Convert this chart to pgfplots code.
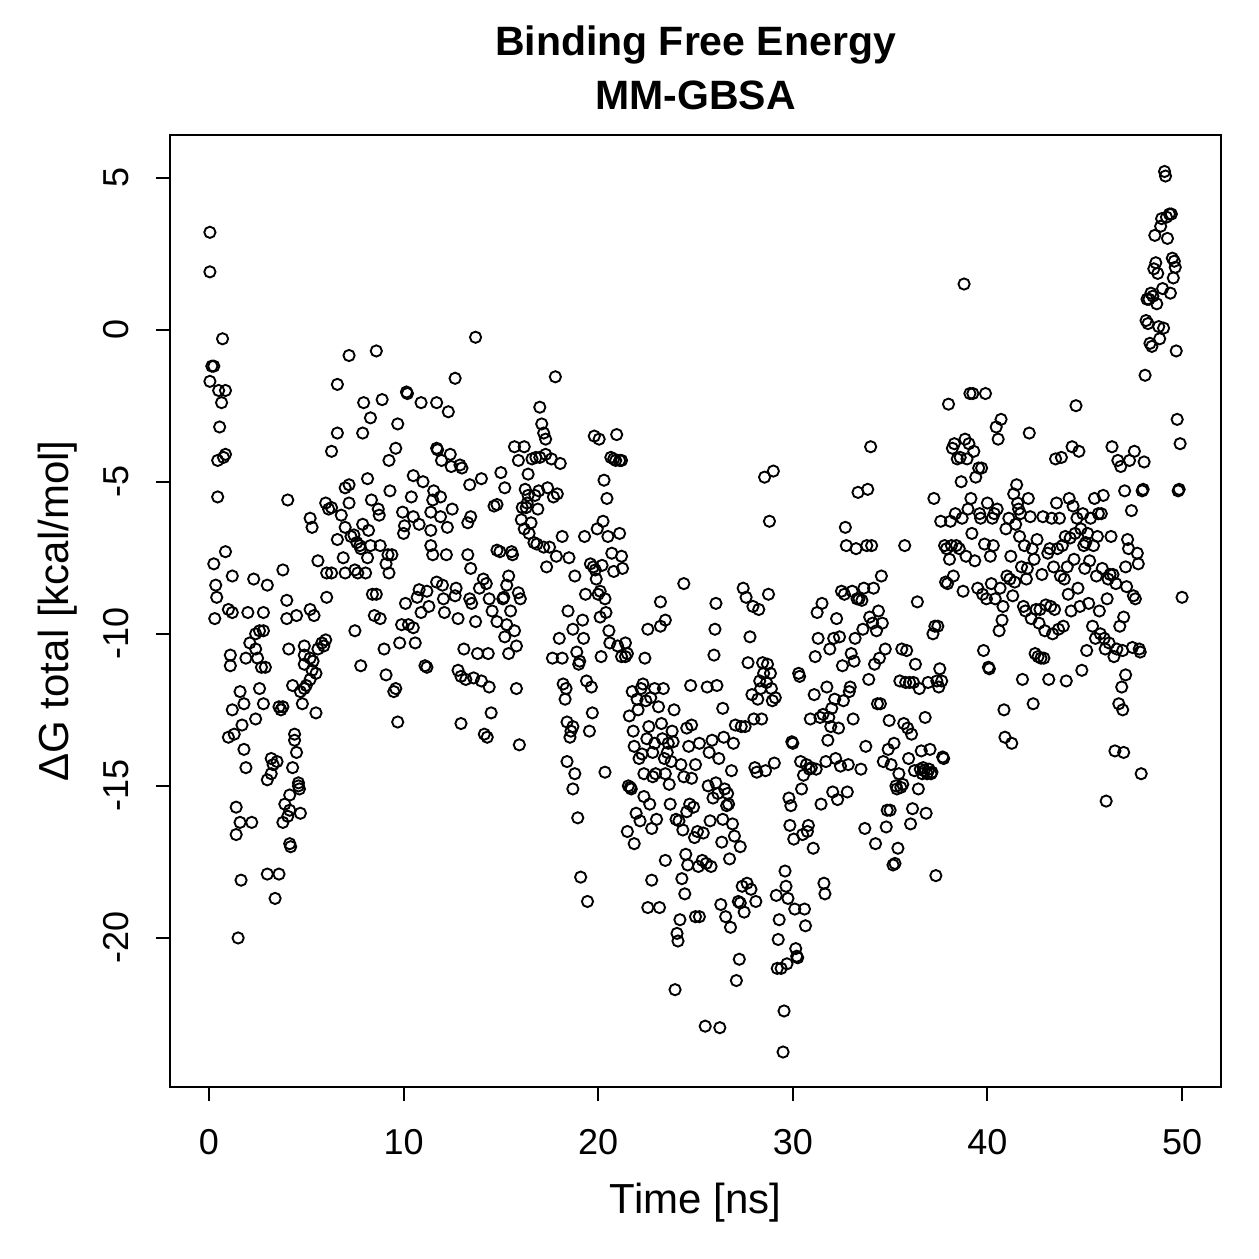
\documentclass[border=0pt]{standalone}
\usepackage{fontspec}
\setmainfont{Liberation Sans}
\usepackage{pgfplots}
\usepackage{pgfplotstable}
\pgfplotsset{compat=1.18}

% Binding free energy per frame (time in ns, energy in kcal/mol)
\pgfplotstableread{
t y
0.05 3.2
0.05 1.9
0.05 -1.7
0.15 -1.2
0.25 -1.2
0.7 -0.3
0.5 -2.0
0.85 -2.0
0.65 -2.4
0.55 -3.2
0.45 -4.3
0.85 -4.1
0.75 -4.2
0.45 -5.5
0.25 -7.7
0.85 -7.3
0.35 -8.4
0.4 -8.8
0.3 -9.5
1.0 -9.2
1.2 -8.1
1.2 -9.3
1.1 -10.7
1.1 -11.05
1.2 -12.5
1.0 -13.4
1.3 -13.3
1.6 -11.9
1.8 -12.3
1.7 -13.0
1.8 -13.8
1.9 -14.4
1.4 -15.7
1.4 -16.6
1.6 -16.2
2.2 -16.2
1.65 -18.1
1.5 -20.0
1.9 -10.8
2.3 -8.2
2.0 -9.3
2.1 -10.3
2.4 -10.0
2.6 -9.9
2.8 -9.9
2.5 -10.8
2.4 -10.5
2.7 -11.1
2.9 -11.1
3.0 -8.4
2.8 -9.3
2.6 -11.8
2.8 -12.3
2.4 -12.8
3.6 -12.4
3.7 -12.5
3.8 -12.4
3.8 -7.9
4.0 -8.9
4.0 -9.5
4.1 -10.5
4.05 -5.6
4.3 -11.7
4.7 -11.9
4.5 -9.4
4.9 -10.4
3.2 -14.1
3.2 -14.6
3.0 -14.8
3.3 -14.3
3.5 -14.2
3.0 -17.9
3.6 -17.9
3.4 -18.7
3.8 -16.2
3.9 -15.6
4.15 -15.3
4.15 -15.8
4.15 -16.9
4.2 -17.0
4.05 -16.0
4.3 -14.4
4.4 -13.5
4.5 -13.9
4.6 -14.9
4.6 -15.0
4.65 -15.1
4.7 -15.9
4.4 -13.3
4.8 -12.3
4.9 -11.8
5.0 -11.7
4.9 -11.0
4.9 -10.7
5.2 -11.5
5.2 -10.8
5.3 -11.2
5.35 -10.9
5.5 -11.3
5.5 -12.6
5.2 -9.2
5.2 -6.2
5.3 -6.5
5.4 -9.4
5.6 -10.5
5.6 -7.6
5.8 -10.3
5.9 -10.4
6.0 -10.2
6.05 -8.0
6.05 -8.8
6.0 -5.7
6.15 -5.9
6.3 -5.85
6.3 -8.0
6.3 -4.0
6.6 -3.4
6.6 -1.8
6.6 -6.9
6.8 -6.1
6.9 -7.5
7.0 -5.2
7.0 -6.5
7.0 -8.0
7.2 -5.7
7.2 -5.1
7.2 -0.85
7.3 -6.8
7.45 -6.75
7.5 -7.9
7.5 -9.9
7.65 -8.0
7.6 -7.0
7.75 -7.1
7.8 -7.2
7.9 -6.4
7.8 -11.05
8.05 -8.0
8.15 -7.5
8.3 -7.1
7.9 -3.4
7.95 -2.4
8.15 -4.9
8.2 -6.6
8.35 -5.6
8.3 -2.9
8.4 -8.7
8.6 -0.7
8.5 -9.4
8.6 -8.7
8.7 -5.9
8.75 -6.1
8.9 -2.3
8.8 -7.1
8.8 -9.5
9.0 -10.5
9.1 -11.35
9.1 -7.7
9.2 -7.4
9.25 -4.3
9.25 -8.0
9.3 -5.3
9.4 -7.4
9.5 -11.9
9.6 -11.8
9.6 -3.9
9.7 -3.1
9.7 -12.9
9.8 -10.3
9.9 -9.7
9.95 -6.0
10.0 -6.7
10.05 -6.45
10.15 -2.05
10.2 -2.1
10.25 -9.7
10.1 -9.0
10.4 -5.5
10.5 -4.8
10.5 -6.15
10.5 -9.8
10.6 -10.3
10.7 -8.8
10.8 -6.4
10.8 -8.55
10.9 -9.3
10.9 -2.4
11.0 -5.0
11.1 -11.05
11.2 -11.1
11.2 -8.6
11.3 -9.1
11.4 -7.1
11.5 -7.4
11.4 -6.6
11.4 -6.0
11.7 -2.4
11.5 -5.6
11.55 -5.3
11.7 -3.9
11.75 -3.95
11.7 -8.3
11.9 -5.5
11.9 -6.15
11.95 -4.3
12.0 -8.4
12.05 -8.85
12.1 -9.3
12.2 -7.4
12.25 -6.5
12.3 -2.7
12.4 -4.1
12.45 -4.5
12.5 -5.9
12.65 -1.6
12.7 -8.5
12.65 -8.75
12.8 -9.5
12.8 -11.2
12.95 -11.4
12.95 -12.95
12.9 -4.45
13.0 -4.55
13.1 -10.5
13.2 -11.5
13.3 -6.35
13.3 -7.4
13.4 -5.1
13.45 -6.15
13.4 -8.85
13.45 -7.85
13.5 -9.0
13.6 -11.45
13.7 -0.25
13.7 -9.6
13.8 -10.65
13.9 -8.5
14.0 -4.9
14.0 -11.55
14.1 -8.2
14.15 -13.3
14.3 -13.4
14.25 -8.35
14.35 -10.65
14.4 -8.85
14.4 -11.75
14.5 -12.6
14.55 -9.25
14.65 -5.8
14.8 -5.75
14.8 -9.6
14.8 -7.25
14.95 -7.3
15.0 -4.7
15.1 -8.85
15.15 -8.8
15.2 -5.2
15.2 -10.1
15.3 -9.7
15.3 -8.4
15.4 -8.1
15.4 -10.65
15.5 -9.25
15.55 -7.3
15.6 -7.4
15.7 -3.85
15.7 -9.9
15.8 -11.8
15.8 -10.4
15.9 -8.65
15.95 -13.65
15.9 -4.3
16.0 -8.85
16.05 -6.25
16.1 -5.85
16.2 -3.85
16.2 -6.55
16.25 -5.25
16.3 -5.85
16.35 -5.7
16.4 -4.75
16.4 -5.45
16.45 -6.7
16.55 -6.35
16.6 -4.25
16.7 -7.0
16.75 -5.45
16.8 -4.2
16.85 -7.05
16.9 -5.9
16.95 -5.3
17.0 -2.55
17.0 -4.2
17.1 -3.1
17.2 -3.4
17.2 -7.15
17.3 -4.1
17.3 -3.6
17.35 -7.8
17.4 -5.2
17.5 -7.15
17.6 -4.25
17.7 -5.5
17.65 -10.8
17.8 -1.55
17.85 -7.45
17.9 -5.4
18.05 -4.4
18.0 -10.15
18.15 -10.8
18.15 -6.8
18.2 -11.65
18.3 -12.15
18.35 -11.8
18.4 -12.9
18.4 -14.2
18.45 -9.25
18.5 -7.5
18.6 -13.2
18.7 -13.05
18.55 -13.4
18.7 -9.85
18.7 -15.1
18.8 -8.1
18.8 -14.6
18.9 -10.6
18.95 -16.05
19.0 -11.0
19.05 -10.9
19.1 -18.0
19.2 -9.55
19.25 -10.15
19.3 -6.8
19.35 -8.7
19.4 -11.55
19.45 -18.8
19.55 -13.2
19.6 -7.7
19.65 -11.75
19.7 -12.6
19.75 -7.8
19.8 -3.5
19.85 -7.9
19.9 -8.2
19.95 -6.55
20.0 -8.7
20.05 -3.6
20.1 -8.6
20.1 -9.45
20.15 -10.75
20.2 -7.75
20.25 -6.3
20.3 -4.95
20.35 -14.55
20.35 -8.85
20.4 -9.3
20.45 -5.55
20.5 -6.8
20.55 -9.9
20.6 -10.3
20.65 -4.2
20.7 -7.35
20.8 -4.25
20.8 -7.95
20.9 -4.3
20.95 -3.45
21.0 -10.4
21.1 -4.3
21.2 -4.3
21.1 -6.7
21.2 -7.45
21.2 -10.75
21.25 -7.85
21.4 -10.3
21.4 -10.75
21.5 -10.65
21.5 -16.5
21.55 -15.0
21.6 -12.7
21.65 -15.05
21.7 -15.1
21.75 -11.9
21.8 -13.2
21.85 -13.7
21.85 -16.9
21.95 -15.9
22.0 -12.15
22.05 -12.5
22.1 -14.1
22.15 -16.15
22.2 -11.8
22.25 -13.95
22.3 -11.65
22.35 -15.35
22.35 -14.6
22.4 -10.8
22.45 -12.2
22.5 -13.45
22.55 -9.85
22.55 -19.0
22.6 -13.05
22.65 -15.6
22.7 -12.1
22.75 -18.1
22.75 -16.4
22.8 -13.9
22.8 -14.7
22.9 -11.8
22.9 -13.6
22.95 -14.6
23.0 -16.1
23.1 -12.4
23.15 -19.0
23.2 -8.95
23.2 -9.75
23.25 -12.95
23.3 -13.45
23.35 -11.8
23.4 -14.1
23.45 -14.6
23.45 -17.45
23.45 -9.55
23.55 -13.9
23.6 -13.6
23.65 -14.95
23.7 -15.6
23.75 -14.2
23.8 -13.2
23.85 -13.55
23.9 -12.5
23.95 -21.7
24.0 -16.1
24.05 -19.85
24.1 -20.1
24.15 -16.15
24.2 -19.4
24.25 -14.3
24.3 -18.05
24.35 -16.45
24.4 -8.35
24.4 -14.7
24.45 -18.55
24.5 -17.25
24.55 -15.85
24.55 -13.1
24.6 -17.6
24.65 -13.7
24.7 -15.6
24.75 -11.7
24.8 -13.0
24.8 -14.75
24.9 -15.7
24.95 -16.7
25.0 -14.3
25.0 -19.3
25.1 -16.5
25.15 -17.65
25.2 -19.3
25.2 -13.6
25.35 -17.45
25.4 -16.55
25.5 -22.9
25.55 -17.55
25.6 -11.75
25.65 -15.0
25.7 -13.9
25.75 -16.15
25.8 -17.65
25.85 -13.5
25.9 -15.4
25.95 -10.7
26.0 -9.85
26.05 -9.0
26.05 -14.9
26.1 -11.7
26.15 -15.25
26.2 -14.1
26.25 -22.95
26.3 -18.9
26.35 -16.85
26.4 -12.45
26.4 -16.1
26.45 -13.4
26.5 -15.1
26.55 -19.3
26.6 -15.65
26.65 -15.25
26.7 -15.6
26.75 -17.4
26.8 -19.65
26.85 -14.5
26.9 -16.25
26.95 -13.6
27.0 -16.65
27.05 -13.0
27.1 -21.4
27.2 -18.8
27.3 -18.85
27.25 -20.7
27.3 -17.0
27.35 -13.05
27.4 -18.3
27.45 -8.5
27.5 -19.15
27.55 -13.05
27.6 -8.8
27.65 -18.2
27.7 -10.95
27.8 -10.1
27.85 -18.4
27.9 -12.0
27.95 -9.1
28.0 -12.8
28.05 -14.4
28.1 -18.8
28.15 -14.55
28.2 -12.15
28.25 -9.2
28.3 -11.55
28.35 -11.8
28.4 -12.8
28.45 -10.95
28.5 -11.3
28.55 -4.85
28.6 -14.5
28.65 -11.6
28.7 -11.0
28.75 -8.7
28.8 -6.3
28.85 -11.3
28.9 -11.8
28.95 -12.2
29.0 -4.65
29.05 -14.25
29.1 -12.1
29.15 -18.6
29.2 -21.0
29.25 -20.05
29.3 -19.4
29.4 -21.0
29.5 -23.75
29.55 -22.4
29.6 -17.8
29.65 -18.3
29.7 -20.85
29.75 -18.7
29.8 -15.4
29.85 -16.3
29.9 -15.65
29.95 -13.55
30.0 -13.6
30.05 -16.75
30.1 -19.05
30.15 -20.35
30.2 -20.6
30.25 -20.65
30.3 -11.3
30.35 -11.4
30.4 -14.2
30.45 -15.1
30.5 -16.6
30.55 -14.65
30.6 -19.05
30.65 -19.6
30.7 -14.3
30.75 -16.5
30.8 -16.3
30.85 -14.45
30.9 -12.8
30.95 -14.4
31.05 -17.05
31.1 -12.0
31.15 -10.75
31.2 -14.45
31.25 -9.3
31.3 -10.15
31.4 -12.75
31.45 -15.6
31.5 -9.0
31.55 -12.65
31.6 -18.2
31.65 -18.55
31.7 -14.2
31.75 -11.75
31.8 -13.5
31.85 -12.75
31.9 -10.5
31.95 -13.05
32.0 -12.45
32.05 -15.2
32.1 -10.15
32.15 -12.15
32.2 -14.1
32.25 -9.5
32.3 -15.45
32.35 -13.1
32.4 -10.1
32.45 -14.35
32.5 -8.6
32.55 -11.05
32.6 -12.2
32.65 -8.7
32.7 -6.5
32.75 -7.1
32.8 -15.2
32.85 -14.3
32.9 -11.9
32.95 -11.75
33.0 -10.65
33.05 -8.6
33.1 -12.8
33.15 -10.9
33.2 -10.15
33.25 -7.2
33.3 -8.85
33.35 -5.35
33.4 -8.85
33.5 -14.45
33.55 -8.9
33.6 -9.85
33.65 -8.5
33.7 -16.4
33.75 -13.7
33.8 -7.1
33.85 -5.25
33.9 -11.5
33.95 -9.45
34.0 -3.85
34.05 -7.1
34.1 -9.65
34.15 -8.5
34.2 -11.0
34.25 -16.9
34.3 -9.9
34.35 -12.3
34.4 -9.25
34.45 -10.8
34.5 -12.3
34.55 -8.1
34.6 -9.65
34.65 -14.2
34.75 -10.5
34.8 -16.35
34.85 -15.8
34.9 -13.8
34.95 -12.85
35.0 -15.8
35.05 -14.3
35.15 -17.6
35.2 -13.6
35.25 -17.55
35.3 -15.0
35.35 -15.1
35.4 -17.05
35.45 -14.6
35.5 -11.55
35.55 -15.05
35.6 -10.5
35.65 -14.95
35.7 -12.95
35.75 -7.1
35.8 -11.6
35.85 -10.55
35.9 -13.1
35.95 -14.1
36.0 -11.6
36.05 -16.25
36.1 -13.3
36.15 -15.75
36.2 -11.6
36.25 -14.5
36.3 -11.0
36.4 -8.95
36.45 -15.1
36.5 -11.8
36.55 -14.45
36.6 -13.85
36.65 -14.6
36.7 -14.4
36.75 -14.5
36.8 -12.75
36.85 -15.9
36.9 -14.6
36.95 -11.6
37.0 -14.45
37.05 -13.8
37.1 -14.6
37.15 -14.55
37.2 -10.0
37.25 -5.55
37.3 -9.75
37.35 -17.95
37.4 -11.55
37.45 -9.75
37.5 -11.75
37.55 -11.15
37.6 -6.3
37.65 -11.55
37.7 -14.05
37.75 -14.1
37.8 -7.1
37.85 -8.3
37.9 -7.2
37.95 -8.35
38.0 -2.45
38.05 -7.55
38.1 -6.3
38.15 -7.1
38.2 -3.9
38.25 -8.1
38.3 -3.75
38.35 -6.05
38.4 -7.1
38.45 -4.25
38.55 -7.2
38.6 -4.2
38.65 -5.0
38.7 -6.2
38.75 -8.6
38.8 1.5
38.85 -3.6
38.9 -7.45
38.95 -4.25
39.0 -5.9
39.05 -3.75
39.1 -2.1
39.15 -5.55
39.2 -6.7
39.25 -2.1
39.3 -4.0
39.35 -7.6
39.4 -4.85
39.5 -8.5
39.55 -4.55
39.6 -6.05
39.65 -6.2
39.7 -4.55
39.75 -8.7
39.8 -10.55
39.85 -7.05
39.9 -2.1
39.95 -8.85
40.0 -5.7
40.05 -11.1
40.1 -11.15
40.15 -7.45
40.2 -8.35
40.25 -6.2
40.3 -7.1
40.35 -6.05
40.4 -8.85
40.45 -3.2
40.5 -5.9
40.55 -3.6
40.6 -9.9
40.65 -8.5
40.7 -2.95
40.75 -9.55
40.8 -9.1
40.85 -12.5
40.9 -13.4
40.95 -6.55
41.0 -8.1
41.1 -6.2
41.15 -8.2
41.2 -7.45
41.25 -13.6
41.3 -8.75
41.35 -5.4
41.4 -8.3
41.45 -6.4
41.5 -5.1
41.55 -5.7
41.6 -5.9
41.65 -6.8
41.7 -6.05
41.75 -7.8
41.8 -11.5
41.85 -9.1
41.9 -7.1
41.95 -9.25
42.0 -8.2
42.05 -7.85
42.1 -5.55
42.15 -3.4
42.2 -6.15
42.25 -9.5
42.3 -7.2
42.35 -12.3
42.4 -7.55
42.45 -10.65
42.5 -9.2
42.55 -6.9
42.6 -10.75
42.65 -9.65
42.7 -9.2
42.75 -10.8
42.8 -8.05
42.85 -6.15
42.9 -10.8
42.95 -9.9
43.0 -9.05
43.1 -7.35
43.15 -11.5
43.2 -7.2
43.25 -9.1
43.3 -6.2
43.35 -10.0
43.4 -7.8
43.45 -9.2
43.5 -4.25
43.55 -5.7
43.6 -7.2
43.65 -9.85
43.7 -6.2
43.75 -8.1
43.8 -4.2
43.85 -7.1
43.9 -9.75
43.95 -8.2
44.0 -6.8
44.05 -11.55
44.1 -7.8
44.15 -8.7
44.2 -5.55
44.25 -6.85
44.3 -9.25
44.35 -3.85
44.4 -5.8
44.45 -7.55
44.5 -6.7
44.55 -2.5
44.6 -6.2
44.65 -8.5
44.7 -4.0
44.75 -9.1
44.8 -6.55
44.85 -11.2
44.9 -6.05
44.95 -7.1
45.0 -7.85
45.05 -7.0
45.1 -10.55
45.15 -6.7
45.2 -9.0
45.25 -7.6
45.3 -6.2
45.4 -9.75
45.45 -7.1
45.5 -5.55
45.55 -10.15
45.6 -8.1
45.65 -6.8
45.7 -6.05
45.75 -9.25
45.8 -10.0
45.85 -6.05
45.9 -7.85
45.95 -5.45
46.0 -10.15
46.05 -10.5
46.1 -15.5
46.15 -8.85
46.2 -8.2
46.25 -10.3
46.3 -8.05
46.35 -6.8
46.4 -3.85
46.45 -8.05
46.5 -10.75
46.55 -13.85
46.6 -8.35
46.65 -10.5
46.7 -4.3
46.75 -12.3
46.8 -9.75
46.85 -4.5
46.9 -11.75
46.95 -10.55
46.95 -12.5
47.0 -13.9
47.0 -9.45
47.05 -5.3
47.1 -11.35
47.1 -7.8
47.15 -8.45
47.2 -6.9
47.25 -7.2
47.3 -4.3
47.4 -5.95
47.45 -10.45
47.5 -8.75
47.55 -4.0
47.6 -8.85
47.7 -7.35
47.75 -7.7
47.8 -10.5
47.85 -10.6
47.9 -14.6
47.95 -5.3
48.0 -5.25
48.05 -4.35
48.1 -1.5
48.15 0.3
48.2 1.0
48.25 0.2
48.3 1.0
48.35 -0.45
48.4 1.2
48.45 -0.55
48.5 1.1
48.55 2.0
48.6 3.1
48.65 2.2
48.7 0.85
48.75 1.85
48.8 0.1
48.85 -0.3
48.9 3.4
48.95 3.65
49.0 1.35
49.05 0.05
49.1 5.2
49.15 5.05
49.2 3.7
49.25 3.0
49.35 3.8
49.4 1.2
49.45 3.8
49.5 2.35
49.55 1.7
49.6 2.25
49.65 2.05
49.7 -0.7
49.75 -2.95
49.8 -5.3
49.85 -5.25
49.9 -3.75
50.0 -8.8
}\mmgbsa

\begin{document}
\begin{tikzpicture}
\begin{axis}[
  scale only axis,
  width=420.4pt, height=380.8pt,
  xmin=-2, xmax=52, ymin=-24.9, ymax=6.4,
  xtick={0,10,20,30,40,50},
  ytick={-20,-15,-10,-5,0,5},
  xtick pos=bottom, ytick pos=left,
  tick align=outside,
  major tick length=5.6pt,
  axis line style={line width=0.8pt},
  every tick/.style={black, line width=0.8pt},
  /pgf/number format/assume math mode=true,
  ticklabel style={font=\fontsize{14.4}{16}\selectfont, inner sep=0pt},
  xticklabel style={anchor=north, yshift=-11pt},
  yticklabel style={xshift=-10.5pt, rotate=90, anchor=south},
  label style={font=\fontsize{16.8}{19}\selectfont},
  xlabel={Time [ns]},
  ylabel={ΔG total [kcal/mol]},
  xlabel style={at={(axis description cs:0.5,-0.1219)}, anchor=center},
  ylabel style={at={(axis description cs:-0.1066,0.5)}, anchor=center},
  clip=false,
]
\addplot[only marks, mark=o, mark size=2.25pt, mark options={line width=0.75pt, black}] table[x=t, y=y] {\mmgbsa};
\coordinate (O) at (rel axis cs:0,0);
\node[font=\bfseries\fontsize{16.4}{18}\selectfont] at (axis description cs:0.5,1.0945) {Binding Free Energy};
\node[font=\bfseries\fontsize{16.4}{18}\selectfont] at (axis description cs:0.5,1.042) {MM-GBSA};
\end{axis}
\pgfresetboundingbox
\path[use as bounding box] (O) ++(-68pt,-68.8pt) rectangle ++(503.6pt,503.6pt);
\end{tikzpicture}
\end{document}
